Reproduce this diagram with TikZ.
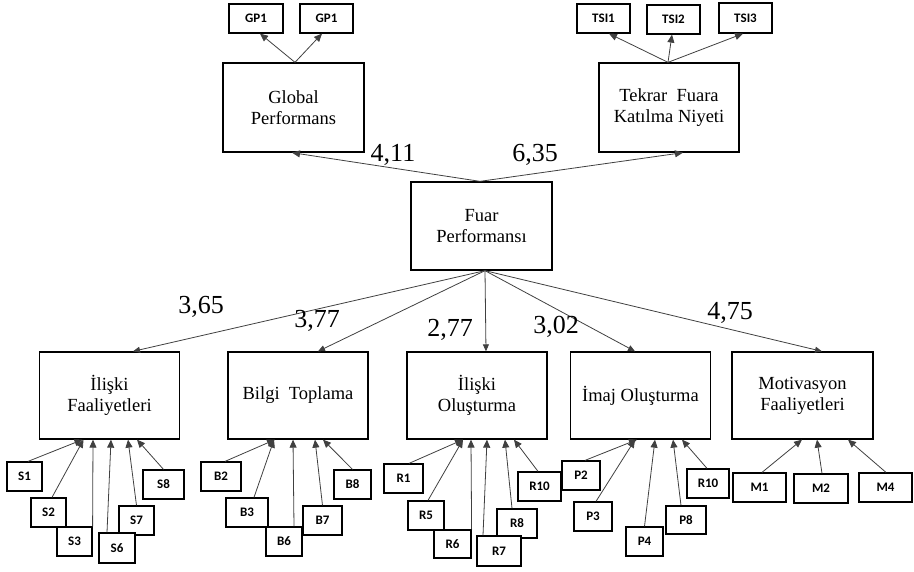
\documentclass[tikz,border=0pt]{standalone}
\usepackage{fontspec}
\setmainfont{Liberation Serif}
\newfontfamily\indfont{Carlito}
\usetikzlibrary{arrows.meta}
\begin{document}
\begin{tikzpicture}[x=1pt,y=-1pt,
  big/.style={draw, line width=1.3pt, minimum width=140pt, minimum height=88pt, inner sep=0pt, align=center, font=\fontsize{18.5}{21}\selectfont},
  ind/.style={draw, fill=white, line width=1.2pt, inner sep=0pt, minimum height=29pt, font=\indfont\bfseries\fontsize{13}{13}\selectfont},
  arr/.style={-{Triangle[length=8pt,width=7pt]}, line width=0.8pt, draw=black!75},
  sarr/.style={-{Triangle[length=7pt,width=6pt]}, line width=0.8pt, draw=black!75},
  val/.style={font=\fontsize{26}{26}\selectfont, inner sep=0pt}]
\useasboundingbox (0,0) rectangle (914,572);

% top level
\node[big, minimum width=141pt, minimum height=89pt] (glob) at (293.5,107.5) {Global\\Performans};
\node[big, minimum height=89pt] (tek) at (669,107.5) {Tekrar\ \ Fuara\\Katılma Niyeti};
\node[big, minimum width=141pt] (fuar) at (481.5,226) {Fuar\\Performansı};

\node[ind, minimum width=54pt] (gpA) at (256,18.5) {GP1};
\node[ind, minimum width=53pt] (gpB) at (326.5,18.5) {GP1};
\node[ind, minimum width=53pt] (tsi1) at (603.5,18.5) {TSI1};
\node[ind, minimum width=53pt] (tsi2) at (673.5,19.5) {TSI2};
\node[ind, minimum width=53pt, minimum height=30pt] (tsi3) at (745.5,18) {TSI3};

% second level
\node[big, minimum height=87pt] (lf) at (109.5,395.5) {İlişki\\Faaliyetleri};
\node[big, minimum height=87pt] (bt) at (298,395.5) {Bilgi\ \ Toplama};
\node[big, minimum height=87pt] (lo) at (477,395.5) {İlişki\\Oluşturma};
\node[big, minimum height=87pt] (im) at (640.5,395.5) {İmaj Oluşturma};
\node[big, minimum height=87pt, minimum width=141pt] (mo) at (802.5,395.5) {Motivasyon\\Faaliyetleri};

% indicators S
\node[ind, minimum width=35pt] (s1) at (24.5,476.5) {S1};
\node[ind, minimum width=35pt] (s2) at (48.5,512.5) {S2};
\node[ind, minimum width=35pt] (s3) at (74.5,541.5) {S3};
\node[ind, minimum width=35pt] (s7) at (136.5,520.5) {S7};
\node[ind, minimum width=36pt, minimum height=30pt] (s6) at (117,548) {S6};
\node[ind, minimum width=41pt] (s8) at (163.5,484.5) {S8};

% indicators B
\node[ind, minimum width=40pt] (b2) at (221,476.5) {B2};
\node[ind, minimum width=42pt] (b3) at (247,512.5) {B3};
\node[ind, minimum width=36pt] (b6) at (284,541.5) {B6};
\node[ind, minimum width=39pt] (b7) at (322.5,520.5) {B7};
\node[ind, minimum width=37pt] (b8) at (352.5,484.5) {B8};

% indicators R
\node[ind, minimum width=39pt] (r1) at (403.5,478.5) {R1};
\node[ind, minimum width=36pt] (r5) at (426,515.5) {R5};
\node[ind, minimum width=37pt, minimum height=28pt] (r6) at (452.5,544) {R6};
\node[ind, minimum width=40pt] (r8) at (517,523.5) {R8};
\node[ind, minimum width=44pt, minimum height=30pt] (r7) at (499,551) {R7};
\node[ind, minimum width=43pt] (r10) at (539.5,486.5) {R10};

% indicators P
\node[ind, minimum width=38pt] (p2) at (581,475.5) {P2};
\node[ind, minimum width=38pt] (p3) at (593,516.5) {P3};
\node[ind, minimum width=37pt] (p4) at (644.5,541.5) {P4};
\node[ind, minimum width=40pt, minimum height=28pt] (p8) at (686,520) {P8};
\node[ind, minimum width=42pt] (r10b) at (708,483.5) {R10};

% indicators M
\node[ind, minimum width=53pt] (m1) at (759.5,487.5) {M1};
\node[ind, minimum width=54pt] (m2) at (821,488.5) {M2};
\node[ind, minimum width=53pt] (m4) at (885.5,487.5) {M4};

% top arrows
\draw[arr] ([xshift=1.5pt]glob.north) -- ([xshift=4pt]gpA.south);
\draw[arr] ([xshift=1.5pt]glob.north) -- ([xshift=-4.5pt]gpB.south);
\draw[arr] ([xshift=-1pt]tek.north) -- ([xshift=5.5pt]tsi1.south);
\draw[arr] ([xshift=-1pt]tek.north) -- ([xshift=-1.5pt]tsi2.south);
\draw[arr] ([xshift=-1pt]tek.north) -- ([xshift=-2.5pt]tsi3.south);

% structural arrows
\draw[arr] ([xshift=-1.5pt]fuar.north) -- ([xshift=-1.5pt]glob.south);
\draw[arr] ([xshift=-1.5pt]fuar.north) -- ([xshift=14pt]tek.south);
\draw[sarr] ([xshift=3.5pt]fuar.south) -- ([xshift=23.5pt]lf.north);
\draw[sarr] ([xshift=3.5pt]fuar.south) -- ([xshift=20pt]bt.north);
\draw[sarr] ([xshift=3.5pt]fuar.south) -- ([xshift=9pt]lo.north);
\draw[sarr] ([xshift=3.5pt]fuar.south) -- ([xshift=-5.5pt]im.north);
\draw[sarr] ([xshift=3.5pt]fuar.south) -- ([xshift=19.5pt]mo.north);

% path values
\node[val] (v1) at (393,155) {4,11};
\node[val] (v2) at (535,155) {6,35};
\node[val] (v3) at (201,307) {3,65};
\node[val] (v4) at (317,321) {3,77};
\node[val] (v5) at (450,330) {2,77};
\node[val] (v6) at (556,327) {3,02};
\node[val] (v7) at (730,313) {4,75};

% S arrows
\draw[arr] ([xshift=3.5pt]s1.north) -- ([xshift=-27pt]lf.south);
\draw[arr] ([xshift=3.5pt]s2.north) -- ([xshift=-26pt]lf.south);
\draw[arr] (s3.north east) -- ([xshift=-16.5pt]lf.south);
\draw[arr] ([xshift=-10pt]s6.north) -- ([xshift=1.5pt]lf.south);
\draw[arr] (s7.north) -- ([xshift=18.5pt]lf.south);
\draw[arr] (s8.north) -- ([xshift=27.5pt]lf.south);

% B arrows
\draw[arr] ([xshift=4pt]b2.north) -- ([xshift=-23pt]bt.south);
\draw[arr] ([xshift=7pt]b3.north) -- ([xshift=-24pt]bt.south);
\draw[arr] ([xshift=10pt]b6.north) -- ([xshift=-5pt]bt.south);
\draw[arr] (b7.north) -- ([xshift=17pt]bt.south);
\draw[arr] (b8.north) -- ([xshift=25pt]bt.south);

% R arrows
\draw[arr] ([xshift=5.5pt]r1.north) -- ([xshift=-14pt]lo.south);
\draw[arr] ([xshift=2pt]r5.north) -- ([xshift=-14pt]lo.south);
\draw[arr] (r6.north east) -- ([xshift=-6pt]lo.south);
\draw[arr] ([xshift=-16pt]r7.north) -- ([xshift=10pt]lo.south);
\draw[arr] ([xshift=-5pt]r8.north) -- ([xshift=28pt]lo.south);
\draw[arr] ([xshift=-1.5pt]r10.north) -- ([xshift=37pt]lo.south);

% P arrows
\draw[arr] ([xshift=4pt]p2.north) -- ([xshift=-3.5pt]im.south);
\draw[arr] ([xshift=3pt]p3.north) -- ([xshift=-5.5pt]im.south);
\draw[arr] (p4.north) -- ([xshift=14.5pt]im.south);
\draw[arr] ([xshift=-5pt]p8.north) -- ([xshift=32.5pt]im.south);
\draw[arr] ([xshift=-1pt]r10b.north) -- ([xshift=41.5pt]im.south);

% M arrows
\draw[arr] ([xshift=2.5pt]m1.north) -- ([xshift=-0.5pt]mo.south);
\draw[arr] ([xshift=1pt]m2.north) -- ([xshift=14.5pt]mo.south);
\draw[arr] ([xshift=0.5pt]m4.north) -- ([xshift=45.5pt]mo.south);
\end{tikzpicture}
\end{document}
